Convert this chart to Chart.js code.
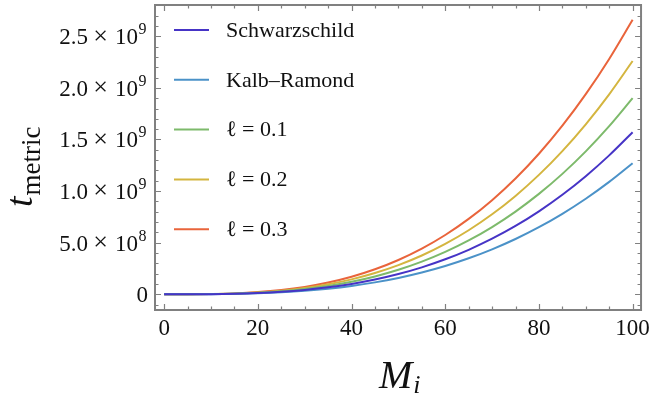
<!DOCTYPE html>
<html>
<head>
<meta charset="utf-8">
<script src="https://cdn.jsdelivr.net/npm/chart.js@4.4.1/dist/chart.umd.min.js"></script>
<style>
  html, body { margin: 0; padding: 0; background: #ffffff; }
  #wrap { width: 655px; height: 399px; }
</style>
</head>
<body>
<div id="wrap"><canvas id="c" width="655" height="399"></canvas></div>
<script>
// Initial mass M_i
const mass = [0, 5, 10, 15, 20, 25, 30, 35, 40, 45, 50, 55, 60, 65, 70, 75, 80, 85, 90, 95, 100];

// t_metric values, in units of 10^6
const schwarzschild = [0, 0.2, 1.6, 5.3, 12.6, 24.5, 42.4, 67.3, 100.5, 143.1, 196.3, 261.2, 339.1, 431.2, 538.5, 662.3, 803.8, 964.2, 1144.5, 1346.1, 1570];
const kalbRamond    = [0, 0.16, 1.3, 4.3, 10.2, 19.8, 34.3, 54.5, 81.3, 115.7, 158.8, 211.3, 274.3, 348.8, 435.6, 535.8, 650.2, 779.9, 925.8, 1088.9, 1270];
const ell01         = [0, 0.24, 1.9, 6.4, 15.2, 29.7, 51.3, 81.5, 121.6, 173.1, 237.5, 316.1, 410.4, 521.8, 651.7, 801.6, 972.8, 1166.8, 1385.1, 1629.0, 1900];
const ell02         = [0, 0.28, 2.3, 7.6, 18.1, 35.3, 61.0, 96.9, 144.6, 205.9, 282.5, 376.0, 488.2, 620.7, 775.2, 953.4, 1157.1, 1387.9, 1647.5, 1937.7, 2260];
const ell03         = [0, 0.33, 2.7, 9.0, 21.3, 41.6, 71.8, 114.0, 170.2, 242.4, 332.5, 442.6, 574.6, 730.5, 912.4, 1122.2, 1361.9, 1633.6, 1939.1, 2280.6, 2660];

const seriesLabels = ['Schwarzschild', 'Kalb\u2013Ramond', '\u2113 = 0.1', '\u2113 = 0.2', '\u2113 = 0.3'];
const seriesColors = ['#4634c6', '#4b92c8', '#7dba6b', '#d4b53f', '#e9643b'];
const seriesData = [schwarzschild, kalbRamond, ell01, ell02, ell03];

// Ticks
const xTickValues = [0, 20, 40, 60, 80, 100];
const xTickLabels = ['0', '20', '40', '60', '80', '100'];
const yTickValues = [0, 500, 1000, 1500, 2000, 2500];
const yTickMantissa = ['0', '5.0', '1.0', '1.5', '2.0', '2.5'];
const yTickExponent = ['', '8', '9', '9', '9', '9'];
const xMinorStep = 5;
const yMinorStep = 100;

const SERIF = '"Liberation Serif", "DejaVu Serif", serif';
const FRAME = '#808080';
const INK = '#111111';

const datasets = seriesData.map((arr, k) => ({
  label: seriesLabels[k],
  data: mass.map((m, i) => ({ x: m, y: arr[i] })),
  borderColor: seriesColors[k],
  backgroundColor: seriesColors[k],
  borderWidth: 2,
  pointRadius: 0,
  fill: false,
  cubicInterpolationMode: 'monotone'
}));

const framePlugin = {
  id: 'framePlugin',
  afterDatasetsDraw(chart) {
    const ctx = chart.ctx;
    const a = chart.chartArea;
    const xs = chart.scales.x, ys = chart.scales.y;
    ctx.save();
    // frame
    ctx.strokeStyle = FRAME;
    ctx.lineWidth = 2;
    ctx.strokeRect(a.left, a.top, a.right - a.left, a.bottom - a.top);
    ctx.lineWidth = 1.2;
    ctx.beginPath();
    for (let v = 0; v <= xs.max; v += xMinorStep) {
      if (v < xs.min) continue;
      const px = Math.round(xs.getPixelForValue(v)) + 0.5;
      const len = xTickValues.includes(v) ? 6 : 3.5;
      ctx.moveTo(px, a.bottom); ctx.lineTo(px, a.bottom - len);
      ctx.moveTo(px, a.top); ctx.lineTo(px, a.top + len);
    }
    for (let v = Math.ceil(ys.min / yMinorStep) * yMinorStep; v <= ys.max; v += yMinorStep) {
      const py = Math.round(ys.getPixelForValue(v)) + 0.5;
      const len = yTickValues.includes(v) ? 6 : 3.5;
      ctx.moveTo(a.left, py); ctx.lineTo(a.left + len, py);
      ctx.moveTo(a.right, py); ctx.lineTo(a.right - len, py);
    }
    ctx.stroke();

    // y tick labels: mantissa × 10^exponent, positioned by the y scale
    ctx.fillStyle = INK;
    ctx.textBaseline = 'alphabetic';
    const R = a.left - 7;
    yTickValues.forEach((v, i) => {
      const py = ys.getPixelForValue(v);
      const base = py + 7.8;
      ctx.font = '23px ' + SERIF;
      if (!yTickExponent[i]) {
        ctx.textAlign = 'right';
        ctx.fillText(yTickMantissa[i], R, base);
        return;
      }
      ctx.textAlign = 'right';
      ctx.fillText('10', R - 10, base);
      ctx.fillText(yTickMantissa[i], R - 60, base);
      ctx.textAlign = 'center';
      ctx.font = '26px ' + SERIF;
      ctx.fillText('\u00d7', R - 47.5, base - 0.5);
      ctx.textAlign = 'left';
      ctx.font = '16px ' + SERIF;
      ctx.fillText(yTickExponent[i], R - 9.5, base - 10);
    });

    // legend
    ctx.textBaseline = 'middle';
    ctx.textAlign = 'left';
    ctx.font = '22px ' + SERIF;
    chart.data.datasets.forEach((ds, k) => {
      const y = 30 + k * 49.8;
      ctx.strokeStyle = ds.borderColor;
      ctx.lineWidth = 2;
      ctx.beginPath();
      ctx.moveTo(174, y); ctx.lineTo(209, y);
      ctx.stroke();
      ctx.fillStyle = INK;
      ctx.fillText(ds.label, 226, y + 1);
    });

    // x-axis title: M_i
    ctx.fillStyle = INK;
    ctx.textBaseline = 'alphabetic';
    ctx.textAlign = 'left';
    ctx.font = 'italic 40px ' + SERIF;
    ctx.fillText('M', 379, 388);
    const mW = ctx.measureText('M').width;
    ctx.font = 'italic 26px ' + SERIF;
    ctx.fillText('i', 379 + mW + 1, 393);

    // y-axis title: t_metric (rotated)
    ctx.translate(32, 0);
    ctx.rotate(-Math.PI / 2);
    ctx.font = 'italic 38px ' + SERIF;
    const tW = ctx.measureText('t').width;
    ctx.fillText('t', -207, 0);
    ctx.font = '27px ' + SERIF;
    ctx.fillText('metric', -207 + tW + 1, 7.5);
    ctx.restore();
  }
};

new Chart(document.getElementById('c'), {
  type: 'line',
  data: { datasets },
  options: {
    responsive: false,
    animation: false,
    devicePixelRatio: 1,
    layout: { padding: { top: 5, right: 8, left: 0, bottom: 0 } },
    plugins: { legend: { display: false }, tooltip: { enabled: false } },
    scales: {
      x: {
        type: 'linear',
        min: -1.96,
        max: 101.8,
        afterFit(s) { s.height = 89; },
        afterBuildTicks(s) { s.ticks = xTickValues.map(v => ({ value: v })); },
        grid: { display: false, drawTicks: false },
        border: { display: false },
        ticks: {
          autoSkip: false,
          maxRotation: 0,
          padding: 5,
          color: INK,
          font: { family: SERIF, size: 23 },
          callback: (v) => { const i = xTickValues.indexOf(v); return i >= 0 ? xTickLabels[i] : ''; }
        }
      },
      y: {
        type: 'linear',
        min: -152,
        max: 2803,
        afterFit(s) { s.width = 155; },
        afterBuildTicks(s) { s.ticks = yTickValues.map(v => ({ value: v })); },
        grid: { display: false, drawTicks: false },
        border: { display: false },
        ticks: { display: false }
      }
    }
  },
  plugins: [framePlugin]
});
</script>
</body>
</html>
